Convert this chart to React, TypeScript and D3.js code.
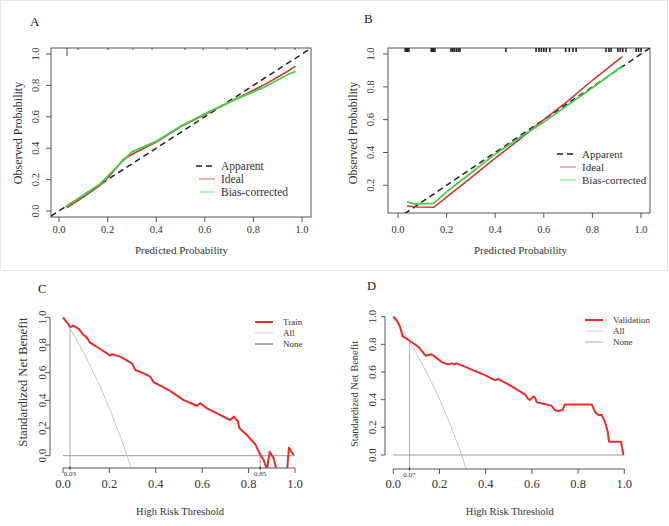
import React from "react";
import * as d3 from "d3";

// ---------- DATA ----------
const probTicks = [0, 0.2, 0.4, 0.6, 0.8, 1.0];
const probTicksB = [0.2, 0.4, 0.6, 0.8, 1.0];
const nbTicks = [0, 0.2, 0.4, 0.6, 0.8, 1.0];

// Panel A calibration
const aIdealX = [0.033, 0.1, 0.17, 0.211, 0.266, 0.307, 0.403, 0.5, 0.623, 0.719, 0.842, 0.938, 0.973];
const aIdealY = [0.021, 0.089, 0.164, 0.228, 0.33, 0.366, 0.44, 0.536, 0.632, 0.706, 0.802, 0.887, 0.923];
const aBiasX = [0.026, 0.1, 0.17, 0.211, 0.3, 0.403, 0.5, 0.623, 0.719, 0.842, 0.938, 0.973];
const aBiasY = [0.026, 0.1, 0.174, 0.238, 0.377, 0.445, 0.54, 0.636, 0.706, 0.787, 0.866, 0.889];
const aRug = [0.033, 0.078, 0.202, 0.305, 0.383, 0.519, 0.593, 0.691, 0.774, 0.889, 0.971];
const aRugFreq = [4, 1, 1, 1, 1, 1, 1, 1, 1, 1, 1];

// Panel B calibration
const bIdealX = [0.037, 0.08, 0.147, 0.2, 0.3, 0.4, 0.5, 0.6, 0.7, 0.8, 0.923];
const bIdealY = [0.074, 0.068, 0.066, 0.128, 0.245, 0.365, 0.48, 0.6, 0.715, 0.84, 0.984];
const bBiasX = [0.037, 0.07, 0.147, 0.2, 0.3, 0.4, 0.5, 0.6, 0.7, 0.8, 0.923];
const bBiasY = [0.099, 0.086, 0.09, 0.16, 0.275, 0.39, 0.49, 0.585, 0.69, 0.795, 0.927];
const bRug = [0.03, 0.035, 0.04, 0.045, 0.137, 0.142, 0.147, 0.152, 0.218, 0.225, 0.232, 0.24, 0.248, 0.255,
  0.444, 0.568, 0.58, 0.59, 0.6, 0.61, 0.625, 0.69, 0.705, 0.72, 0.733, 0.856, 0.868, 0.877,
  0.905, 0.915, 0.925, 0.938, 0.98, 0.99, 1.0];

// Panel C decision curve (Train)
const cTrainX = [0, 0.017, 0.032, 0.043, 0.068, 0.089, 0.103, 0.115, 0.161, 0.204, 0.211, 0.247, 0.297, 0.312,
  0.348, 0.376, 0.391, 0.42, 0.463, 0.52, 0.578, 0.592, 0.621, 0.721, 0.736, 0.753, 0.761, 0.793, 0.829,
  0.851, 0.865, 0.879, 0.891, 0.908, 0.92, 0.935, 0.955, 0.966, 0.974, 0.994];
const cTrainY = [1.0, 0.964, 0.928, 0.94, 0.916, 0.872, 0.853, 0.819, 0.771, 0.723, 0.733, 0.716, 0.667, 0.619,
  0.595, 0.571, 0.53, 0.506, 0.467, 0.402, 0.361, 0.378, 0.342, 0.258, 0.282, 0.251, 0.198, 0.149, 0.082,
  0.005, -0.031, -0.1, 0.029, -0.019, -0.1, -0.3, -0.3, -0.1, 0.058, 0.005];
const cAllX = [0, 0.03, 0.05, 0.1, 0.15, 0.2, 0.25, 0.276, 0.3];
const cAllY = [1.0, 0.919, 0.862, 0.709, 0.537, 0.344, 0.126, 0.0, -0.12];
const cCutoffs = [0.03, 0.85];
const cCutoffY = [0.92, 0.005];

// Panel D decision curve (Validation)
const dValX = [0, 0.014, 0.029, 0.04, 0.072, 0.108, 0.14, 0.166, 0.18, 0.212, 0.238, 0.253, 0.264, 0.274, 0.31,
  0.354, 0.397, 0.44, 0.455, 0.498, 0.57, 0.584, 0.592, 0.606, 0.613, 0.621, 0.685, 0.7, 0.714, 0.733, 0.743,
  0.859, 0.873, 0.887, 0.902, 0.916, 0.928, 0.934, 0.986, 0.996];
const dValY = [1.0, 0.976, 0.928, 0.86, 0.824, 0.783, 0.718, 0.728, 0.711, 0.67, 0.655, 0.663, 0.655, 0.663, 0.639,
  0.607, 0.578, 0.542, 0.549, 0.511, 0.439, 0.405, 0.398, 0.422, 0.417, 0.381, 0.357, 0.325, 0.318, 0.325, 0.366,
  0.366, 0.313, 0.289, 0.289, 0.241, 0.169, 0.096, 0.096, 0.0];
const dAllX = [0, 0.05, 0.07, 0.1, 0.15, 0.2, 0.25, 0.296, 0.315];
const dAllY = [1.0, 0.875, 0.821, 0.736, 0.58, 0.405, 0.207, 0.0, -0.1];
const dCutoffs = [0.07];
const dCutoffY = [0.82];

const calLegend = ["Apparent", "Ideal", "Bias-corrected"];
const fmt1 = d3.format(".1f");

const FONT = "'Liberation Serif', 'DejaVu Serif', serif";
const RED_CAL = "#c8383a";
const GREEN_CAL = "#45d045";
const RED_DCA = "#ee2a2a";

const zip = (xs: number[], ys: number[]) => xs.map((x, i) => [x, ys[i]] as [number, number]);

function CalPanel(props: any) {
  const { id, letter, letterPos, xr, yr, yDomain, box, yTicks, ideal, bias, rug, rugFreq, rugLen, legendPos, legendFont, yTitleX, yLabX, yTitleFont } = props;
  const x = d3.scaleLinear().domain([0, 1]).range(xr);
  const y = d3.scaleLinear().domain(yDomain).range(yr);
  const line = d3.line<[number, number]>().x(d => x(d[0])).y(d => y(d[1]));
  const [bx0, by0, bx1, by1] = box;
  const lo = x.invert(bx0), hi = x.invert(bx1);
  return (
    <g>
      <defs>
        <clipPath id={id}><rect x={bx0} y={by0} width={bx1 - bx0} height={by1 - by0} /></clipPath>
      </defs>
      <text x={letterPos[0]} y={letterPos[1]} fontSize={13} fontFamily={FONT} fill="#222">{letter}</text>
      <rect x={bx0} y={by0} width={bx1 - bx0} height={by1 - by0} fill="none" stroke="#555" strokeWidth={1} />
      {/* rug */}
      {rug.map((v: number, i: number) => (
        <line key={"r" + i} x1={x(v)} x2={x(v)} y1={by0} y2={by0 + (rugFreq ? rugFreq[i] * rugLen : rugLen)}
          stroke="#222" strokeWidth={rugFreq ? 0.8 : 1.6} />
      ))}
      <g clipPath={`url(#${id})`}>
        <path d={line([[lo, lo], [hi, hi]]) || ""} stroke="#222" strokeWidth={1.5} strokeDasharray="6,4" fill="none" />
        <path d={line(ideal) || ""} stroke={RED_CAL} strokeWidth={1.6} fill="none" />
        <path d={line(bias) || ""} stroke={GREEN_CAL} strokeWidth={1.8} fill="none" />
      </g>
      {/* x axis */}
      {probTicks.map((t) => (
        <g key={"xt" + t}>
          <line x1={x(t)} x2={x(t)} y1={by1} y2={by1 + 5} stroke="#555" />
          <text x={x(t)} y={233} textAnchor="middle" fontSize={10.5} fontFamily={FONT} fill="#333">{fmt1(t)}</text>
        </g>
      ))}
      {yTicks.map((t: number) => (
        <g key={"yt" + t}>
          <line x1={bx0} x2={bx0 - 5} y1={y(t)} y2={y(t)} stroke="#555" />
          <text transform={`translate(${yLabX},${y(t)}) rotate(-90)`} textAnchor="middle" fontSize={10.5} fontFamily={FONT} fill="#333">{fmt1(t)}</text>
        </g>
      ))}
      <text x={(xr[0] + xr[1]) / 2 + 1} y={254} textAnchor="middle" fontSize={11} fontFamily={FONT} fill="#333">Predicted Probability</text>
      <text transform={`translate(${yTitleX},133) rotate(-90)`} textAnchor="middle" fontSize={yTitleFont} fontFamily={FONT} fill="#333">Observed Probability</text>
      {/* legend */}
      <g fontFamily={FONT} fontSize={legendFont} fill="#333">
        <line x1={legendPos[0] - 3} x2={legendPos[0] + 16} y1={legendPos[1]} y2={legendPos[1]} stroke="#222" strokeWidth={1.6} strokeDasharray="6,4" />
        <line x1={legendPos[0]} x2={legendPos[0] + 16} y1={legendPos[1] + 13} y2={legendPos[1] + 13} stroke="#d66" strokeWidth={1} />
        <line x1={legendPos[0]} x2={legendPos[0] + 16} y1={legendPos[1] + 26} y2={legendPos[1] + 26} stroke="#7e7" strokeWidth={1} />
        {calLegend.map((s, i) => (
          <text key={s} x={legendPos[0] + 22} y={legendPos[1] + 13 * i + 4}>{s}</text>
        ))}
      </g>
    </g>
  );
}

function DcaPanel(props: any) {
  const { id, letter, letterPos, xr, yr, axisY, axisX, main, all, cutoffs, cutoffY, legendPos, legendName, yTitleX, yLabX, yTitleY, yTitleFont, noneColor } = props;
  const x = d3.scaleLinear().domain([0, 1]).range(xr);
  const y = d3.scaleLinear().domain([0, 1]).range(yr);
  const line = d3.line<[number, number]>().x(d => x(d[0])).y(d => y(d[1]));
  return (
    <g>
      <defs>
        <clipPath id={id}><rect x={axisX} y={yr[1] - 20} width={xr[1] - axisX + 12} height={axisY - yr[1] + 20} /></clipPath>
      </defs>
      <text x={letterPos[0]} y={letterPos[1]} fontSize={12.5} fontFamily={FONT} fill="#222">{letter}</text>
      <g clipPath={`url(#${id})`}>
        {cutoffs.map((c: number, i: number) => (
          <line key={"c" + i} x1={x(c)} x2={x(c)} y1={y(cutoffY[i])} y2={axisY} stroke="#999" strokeWidth={0.8} />
        ))}
        <line x1={x(0)} x2={x(1)} y1={y(0)} y2={y(0)} stroke="#999" strokeWidth={1} />
        <path d={line(all) || ""} stroke="#c4c4c4" strokeWidth={1} fill="none" />
        <path d={line(main) || ""} stroke={RED_DCA} strokeWidth={2} fill="none" strokeLinejoin="round" />
      </g>
      {/* x axis */}
      <line x1={x(0)} x2={x(1)} y1={axisY} y2={axisY} stroke="#555" />
      {probTicks.map((t) => (
        <g key={"xt" + t}>
          <line x1={x(t)} x2={x(t)} y1={axisY} y2={axisY + 5} stroke="#555" />
          <text x={x(t)} y={487.5} textAnchor="middle" fontSize={12.5} fontFamily={FONT} fill="#333">{fmt1(t)}</text>
        </g>
      ))}
      {cutoffs.map((c: number, i: number) => (
        <g key={"cl" + i}>
          <line x1={x(c)} x2={x(c)} y1={axisY - 1.5} y2={axisY + 1.5} stroke="#333" strokeWidth={1.2} />
          <text x={x(c)} y={axisY + 8} textAnchor="middle" fontSize={7} fontFamily={FONT} fill="#333">{d3.format(".2f")(c)}</text>
        </g>
      ))}
      {/* y axis */}
      <line x1={axisX} x2={axisX} y1={y(0)} y2={y(1)} stroke="#555" />
      {nbTicks.map((t) => (
        <g key={"yt" + t}>
          <line x1={axisX} x2={axisX - 4} y1={y(t)} y2={y(t)} stroke="#555" />
          <text transform={`translate(${yLabX},${y(t)}) rotate(-90)`} textAnchor="middle" fontSize={11} fontFamily={FONT} fill="#333">{fmt1(t)}</text>
        </g>
      ))}
      <text x={(xr[0] + xr[1]) / 2 + 1} y={515} textAnchor="middle" fontSize={10.5} fontFamily={FONT} fill="#333">High Risk Threshold</text>
      <text transform={`translate(${yTitleX},${yTitleY}) rotate(-90)`} textAnchor="middle" fontSize={yTitleFont} fontFamily={FONT} fill="#333">Standardized Net Benefit</text>
      {/* legend */}
      <g fontFamily={FONT} fontSize={9} fill="#333">
        <line x1={legendPos[0]} x2={legendPos[0] + 18} y1={legendPos[1]} y2={legendPos[1]} stroke={RED_DCA} strokeWidth={2} />
        <line x1={legendPos[0]} x2={legendPos[0] + 18} y1={legendPos[1] + 11} y2={legendPos[1] + 11} stroke="#ccc" strokeWidth={1} />
        <line x1={legendPos[0]} x2={legendPos[0] + 18} y1={legendPos[1] + 22} y2={legendPos[1] + 22} stroke={noneColor} strokeWidth={1} />
        {[legendName, "All", "None"].map((s, i) => (
          <text key={s} x={legendPos[0] + 28} y={legendPos[1] + 11 * i + 3}>{s}</text>
        ))}
      </g>
    </g>
  );
}

export default function App() {
  return (
    <svg width={669} height={526} style={{ position: "fixed", left: 0, top: 0, background: "#fff" }}>
      <rect x={0} y={0} width={669} height={526} fill="#fff" />
      <rect x={0.5} y={0.5} width={667} height={270} fill="none" stroke="#e4e4e4" />
      <CalPanel id="clipA" letter="A" letterPos={[30, 26]} xr={[59, 302]} yr={[211, 54]} yDomain={[0, 1]}
        box={[51, 48, 311, 217]} yTicks={probTicks} ideal={zip(aIdealX, aIdealY)} bias={zip(aBiasX, aBiasY)}
        rug={aRug} rugFreq={aRugFreq} rugLen={2} legendPos={[199, 166]} legendFont={11.5} yTitleX={22} yLabX={39} yTitleFont={12} />
      <CalPanel id="clipB" letter="B" letterPos={[364, 23]} xr={[398, 641]} yr={[185.3, 54]} yDomain={[0.2, 1]}
        box={[388, 48, 650, 213]} yTicks={probTicksB} ideal={zip(bIdealX, bIdealY)} bias={zip(bBiasX, bBiasY)}
        rug={bRug} rugFreq={null} rugLen={4} legendPos={[560, 154]} legendFont={11} yTitleX={357} yLabX={374} yTitleFont={12} />
      <DcaPanel id="clipC" letter="C" letterPos={[38, 293]} xr={[63, 295]} yr={[455.7, 317.3]} axisY={468} axisX={50}
        main={zip(cTrainX, cTrainY)} all={zip(cAllX, cAllY)} cutoffs={cCutoffs} cutoffY={cCutoffY}
        legendPos={[255, 322]} legendName="Train" yTitleX={27} yLabX={46} yTitleY={382} yTitleFont={12.8} noneColor="#555" />
      <DcaPanel id="clipD" letter="D" letterPos={[367, 290]} xr={[393.3, 624.3]} yr={[455, 316.7]} axisY={469} axisX={385}
        main={zip(dValX, dValY)} all={zip(dAllX, dAllY)} cutoffs={dCutoffs} cutoffY={dCutoffY}
        legendPos={[585, 320]} legendName="Validation" yTitleX={358} yLabX={376} yTitleY={394} yTitleFont={10.5} noneColor="#aaa" />
    </svg>
  );
}
